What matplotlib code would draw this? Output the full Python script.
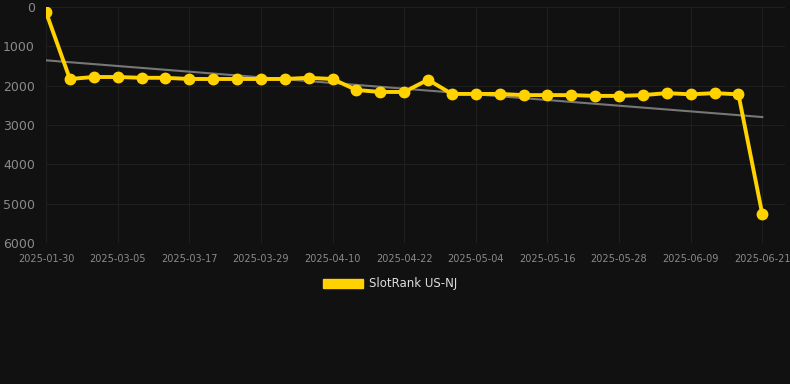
import numpy as np
from matplotlib import pyplot as plt
from matplotlib.patches import Patch

# category labels (one point every 4 days, first one earlier)
dates = ["2025-01-30", "2025-02-25", "2025-03-01", "2025-03-05", "2025-03-09",
         "2025-03-13", "2025-03-17", "2025-03-21", "2025-03-25", "2025-03-29",
         "2025-04-02", "2025-04-06", "2025-04-10", "2025-04-14", "2025-04-18",
         "2025-04-22", "2025-04-26", "2025-04-30", "2025-05-04", "2025-05-08",
         "2025-05-12", "2025-05-16", "2025-05-20", "2025-05-24", "2025-05-28",
         "2025-06-01", "2025-06-05", "2025-06-09", "2025-06-13", "2025-06-17",
         "2025-06-21"]
rank = [130, 1830, 1780, 1780, 1800, 1800, 1830, 1830, 1830, 1830,
        1830, 1800, 1830, 2110, 2160, 2160, 1850, 2210, 2210, 2210,
        2240, 2240, 2240, 2260, 2260, 2240, 2190, 2220, 2190, 2220,
        5270]
yticks = [0, 1000, 2000, 3000, 4000, 5000, 6000]

bg = "#111111"
gold = "#FFD200"

fig = plt.figure(figsize=(7.9, 3.84), dpi=100, facecolor=bg)
ax = fig.add_axes([46/790, 1 - 243/384, (785 - 46)/790, (243 - 7)/384])
ax.set_facecolor(bg)

x = np.arange(len(dates))
coef = np.polyfit(x, rank, 1)
ax.plot(x, np.polyval(coef, x), color="#777777", lw=1.5, zorder=2)
ax.plot(x, rank, color=gold, lw=2.8, marker="o", ms=7.5, zorder=3)

ax.set_ylim(6000, 0)
ax.set_xlim(0, 30.95)
ax.set_yticks(yticks)
ax.set_xticks(x[::3])
ax.set_xticklabels(dates[::3])
ax.tick_params(axis="y", colors="#8a8a8a", labelsize=9, length=0, pad=8)
ax.tick_params(axis="x", colors="#8a8a8a", labelsize=7, length=0, pad=8)
ax.grid(True, color="#1f1f1f", lw=0.8)
for s in ax.spines.values():
    s.set_visible(False)
ax.set_axisbelow(True)

handle = Patch(facecolor=gold, edgecolor=gold)
leg = fig.legend([handle], ["SlotRank US-NJ"], loc="center", bbox_to_anchor=(390/790, 1 - 284/384),
                 frameon=False, handlelength=3.4, handleheight=0.9, handletextpad=0.5,
                 fontsize=8.5, labelcolor="#dddddd")

plt.savefig("out.png", dpi=100, facecolor=bg)
